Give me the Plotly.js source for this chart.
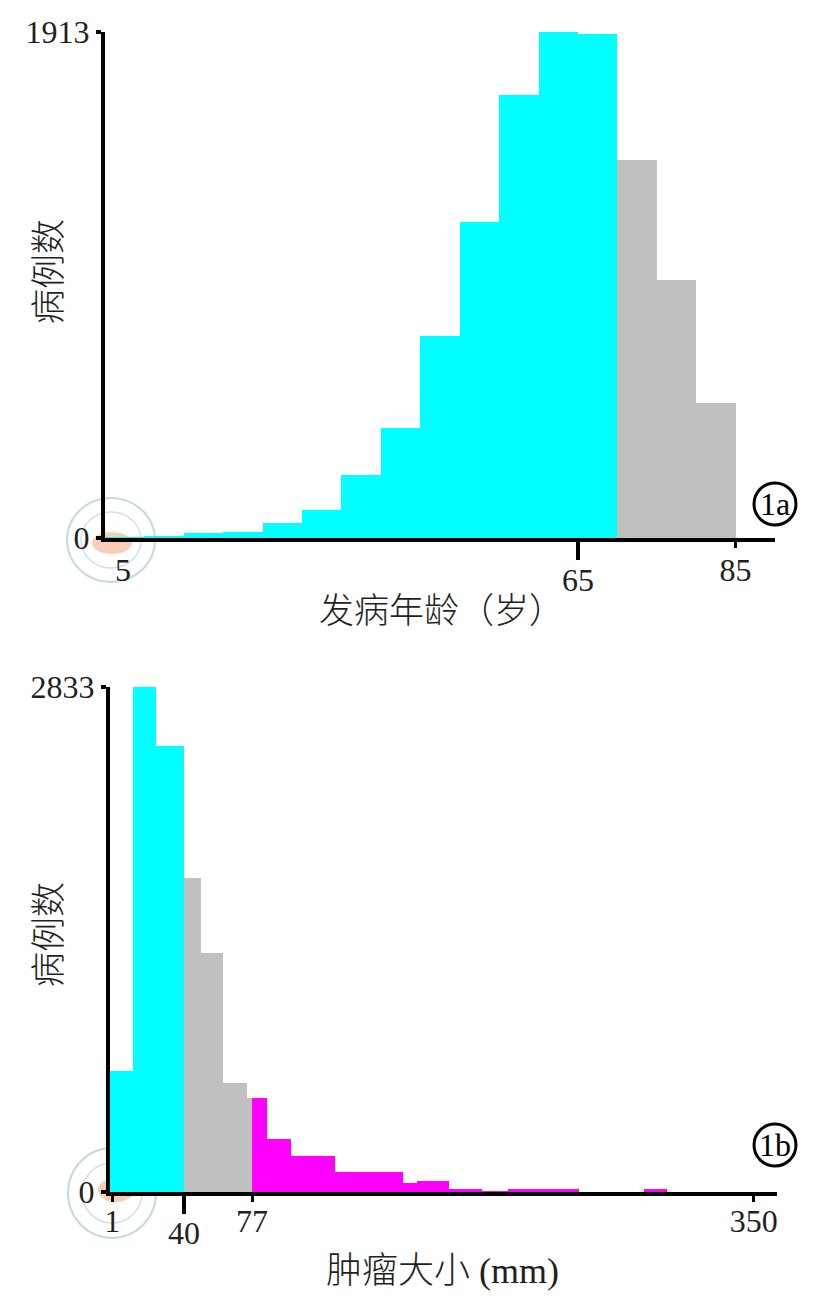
<!DOCTYPE html>
<html>
<head>
<meta charset="utf-8">
<script src="https://cdn.plot.ly/plotly-3.0.1.min.js"></script>
<style>html,body{margin:0;padding:0;background:#fff;}#chart{width:816px;height:1300px;}</style>
</head>
<body>
<div id="chart"></div>
<script>
// ---------- DATA ----------
// Fig 1a: age at onset (years), 5-year bins
const ageEdges  = [5, 10, 15, 20, 25, 30, 35, 40, 45, 50, 55, 60, 65, 70, 75, 80, 85];
const ageCounts = [2, 8, 18, 22, 55, 104, 240, 414, 763, 1194, 1674, 1913, 1905, 1429, 975, 511];
const ageCut = 70;                       // bins below -> cyan, above -> gray
const ageTickLabels = ["5", "65", "85"];
const ageYTicks = [0, 1913];

// Fig 1b: tumour size (mm), irregular bins
const sizeEdges  = [0, 12, 25, 40, 49, 61, 74, 77, 85, 98, 122, 159, 167, 184, 202, 216, 255, 290, 303, 350];
const sizeCounts = [679, 2833, 2502, 1762, 1341, 611, 527, 527, 300, 202, 110, 50, 62, 17, 3, 15, 2, 17, 0];
const sizeCuts = [40, 77];               // cyan | gray | magenta
const sizeTickLabels = ["1", "40", "77", "350"];
const sizeYTicks = [0, 2833];

const xTitleA = "发病年龄（岁）";
const xTitleB = "肿瘤大小 (mm)";
const yTitle = "病例数";
const panelA = "1a", panelB = "1b";

// ---------- HELPERS ----------
const W = 816, H = 1300;
const px = v => v / W;
const py = v => 1 - v / H;
const CYAN = "#00FFFF", GRAY = "#C0C0C0", MAG = "#FF00FF";
const TXT = "#231f20";
const SERIF = "Liberation Serif, Times New Roman, serif";
const MIX = "Liberation Serif, Noto Sans CJK SC, serif";
const CJK = "Noto Sans CJK SC, sans-serif";

function binTrace(edges, counts, filterFn, color, xa, ya) {
  const x = [], y = [], w = [];
  for (let i = 0; i < counts.length; i++) {
    const a = edges[i], b = edges[i + 1];
    if (!filterFn(a, b)) continue;
    x.push((a + b) / 2); w.push(b - a); y.push(counts[i]);
  }
  return {type: "bar", x, y, width: w, xaxis: xa, yaxis: ya,
          marker: {color, line: {width: 0}}, hoverinfo: "skip"};
}

const traces = [
  binTrace(ageEdges, ageCounts, (a, b) => b <= ageCut, CYAN, "x", "y"),
  binTrace(ageEdges, ageCounts, (a, b) => a >= ageCut, GRAY, "x", "y"),
  binTrace(sizeEdges, sizeCounts, (a, b) => b <= sizeCuts[0], CYAN, "x2", "y2"),
  binTrace(sizeEdges, sizeCounts, (a, b) => a >= sizeCuts[0] && b <= sizeCuts[1], GRAY, "x2", "y2"),
  binTrace(sizeEdges, sizeCounts, (a, b) => a >= sizeCuts[1], MAG, "x2", "y2"),
  // invisible carriers for the overlay tick axes
  {type: "scatter", x: [+ageTickLabels[1]], y: [0], xaxis: "x3", yaxis: "y", mode: "markers",
   marker: {opacity: 0, size: 1}, hoverinfo: "skip"},
  {type: "scatter", x: [+sizeTickLabels[1]], y: [0], xaxis: "x4", yaxis: "y2", mode: "markers",
   marker: {opacity: 0, size: 1}, hoverinfo: "skip"}
];

const tickFont = {family: SERIF, size: 32, color: TXT};
const rangeA = [5, 90];
const rangeB = [-0.26, 362.6];
const domA = [px(105), px(775)];
const domB = [px(110), px(777)];

const baseX = {showgrid: false, zeroline: false, showline: true, linewidth: 4, linecolor: "#000",
  ticks: "outside", tickwidth: 3, tickcolor: "#000", tickfont: tickFont, fixedrange: true};
const baseY = {showgrid: false, zeroline: false, showline: true, linewidth: 4, linecolor: "#000",
  ticks: "outside", ticklen: 5, tickwidth: 4, tickcolor: "#000", tickfont: tickFont, fixedrange: true,
  ticklabelstandoff: 0};

const layout = {
  width: W, height: H, margin: {l: 0, r: 0, t: 0, b: 0},
  paper_bgcolor: "#fff", plot_bgcolor: "rgba(0,0,0,0)",
  showlegend: false, bargap: 0, barmode: "overlay",
  xaxis: Object.assign({}, baseX, {domain: domA, range: rangeA, anchor: "y",
    tickmode: "array", tickvals: [+ageTickLabels[2]], ticktext: [ageTickLabels[2]], ticklen: 6,
    ticklabelstandoff: -5}),
  xaxis3: Object.assign({}, baseX, {domain: domA, range: rangeA, anchor: "y", overlaying: "x",
    showline: false, tickmode: "array", tickvals: [+ageTickLabels[1]], ticktext: [ageTickLabels[1]],
    ticklen: 21, tickwidth: 4, ticklabelstandoff: -7}),
  yaxis: Object.assign({}, baseY, {domain: [py(538), py(32)], range: [0, ageYTicks[1]], anchor: "x",
    tickmode: "array", tickvals: ageYTicks, ticktext: ageYTicks.map(String)}),
  xaxis2: Object.assign({}, baseX, {domain: domB, range: rangeB, anchor: "y2",
    tickmode: "array", tickvals: [1, 77, 350].map(Number), ticktext: [sizeTickLabels[0], sizeTickLabels[2], sizeTickLabels[3]],
    ticklen: 6, ticklabelstandoff: -8}),
  xaxis4: Object.assign({}, baseX, {domain: domB, range: rangeB, anchor: "y2", overlaying: "x2",
    showline: false, tickmode: "array", tickvals: [+sizeTickLabels[1]], ticktext: [sizeTickLabels[1]],
    ticklen: 21, tickwidth: 4, ticklabelstandoff: -8}),
  yaxis2: Object.assign({}, baseY, {domain: [py(1192), py(687)], range: [0, sizeYTicks[1]], anchor: "x2",
    tickmode: "array", tickvals: sizeYTicks, ticktext: sizeYTicks.map(String)}),
  annotations: [
    {xref: "x", yref: "paper", x: 7.3, y: py(570), text: ageTickLabels[0], showarrow: false,
     xanchor: "center", yanchor: "middle", font: tickFont},
    {xref: "paper", yref: "paper", x: px(442), y: py(611), text: xTitleA, showarrow: false,
     xanchor: "center", yanchor: "middle", font: {family: MIX, size: 35, color: TXT, weight: 300}},
    {xref: "paper", yref: "paper", x: px(443), y: py(1271), text: xTitleB, showarrow: false,
     xanchor: "center", yanchor: "middle", font: {family: MIX, size: 36, color: TXT, weight: 300}},
    {xref: "paper", yref: "paper", x: px(45), y: py(272), text: yTitle, showarrow: false, textangle: -90,
     xanchor: "center", yanchor: "middle", font: {family: CJK, size: 35, color: TXT, weight: 300}},
    {xref: "paper", yref: "paper", x: px(45), y: py(935), text: yTitle, showarrow: false, textangle: -90,
     xanchor: "center", yanchor: "middle", font: {family: CJK, size: 35, color: TXT, weight: 300}},
    {xref: "paper", yref: "paper", x: px(775), y: py(504), text: panelA, showarrow: false,
     xanchor: "center", yanchor: "middle", font: {family: SERIF, size: 32, color: "#000"}},
    {xref: "paper", yref: "paper", x: px(775), y: py(1145), text: panelB, showarrow: false,
     xanchor: "center", yanchor: "middle", font: {family: SERIF, size: 32, color: "#000"}}
  ],
  shapes: [
    // panel label circles
    {type: "circle", xref: "paper", yref: "paper", xsizemode: "pixel", ysizemode: "pixel",
     xanchor: px(775), yanchor: py(504), x0: -21, x1: 21, y0: -21, y1: 21, line: {color: "#000", width: 3}},
    {type: "circle", xref: "paper", yref: "paper", xsizemode: "pixel", ysizemode: "pixel",
     xanchor: px(775), yanchor: py(1145), x0: -21, x1: 21, y0: -21, y1: 21, line: {color: "#000", width: 3}},
    // faint watermark seals
    {type: "circle", xref: "paper", yref: "paper", xsizemode: "pixel", ysizemode: "pixel", layer: "below",
     xanchor: px(111), yanchor: py(540), x0: -44, x1: 44, y0: -42, y1: 42, line: {color: "rgba(150,185,195,0.55)", width: 2}},
    {type: "circle", xref: "paper", yref: "paper", xsizemode: "pixel", ysizemode: "pixel", layer: "below",
     xanchor: px(111), yanchor: py(540), x0: -30, x1: 30, y0: -28, y1: 28, line: {color: "rgba(150,185,195,0.45)", width: 1.5}},
    {type: "circle", xref: "paper", yref: "paper", xsizemode: "pixel", ysizemode: "pixel", layer: "below",
     xanchor: px(112), yanchor: py(543), x0: -20, x1: 20, y0: -11, y1: 11, line: {width: 0}, fillcolor: "rgba(245,190,160,0.75)"},
    {type: "circle", xref: "paper", yref: "paper", xsizemode: "pixel", ysizemode: "pixel", layer: "below",
     xanchor: px(112), yanchor: py(1193), x0: -44, x1: 44, y0: -45, y1: 45, line: {color: "rgba(150,185,195,0.55)", width: 2}},
    {type: "circle", xref: "paper", yref: "paper", xsizemode: "pixel", ysizemode: "pixel", layer: "below",
     xanchor: px(112), yanchor: py(1193), x0: -30, x1: 30, y0: -30, y1: 30, line: {color: "rgba(150,185,195,0.45)", width: 1.5}},
    {type: "circle", xref: "paper", yref: "paper", xsizemode: "pixel", ysizemode: "pixel", layer: "below",
     xanchor: px(116), yanchor: py(1190), x0: -18, x1: 18, y0: -12, y1: 12, line: {width: 0}, fillcolor: "rgba(245,190,160,0.75)"}
  ]
};

Plotly.newPlot("chart", traces, layout, {staticPlot: true, displayModeBar: false});
</script>
</body>
</html>
